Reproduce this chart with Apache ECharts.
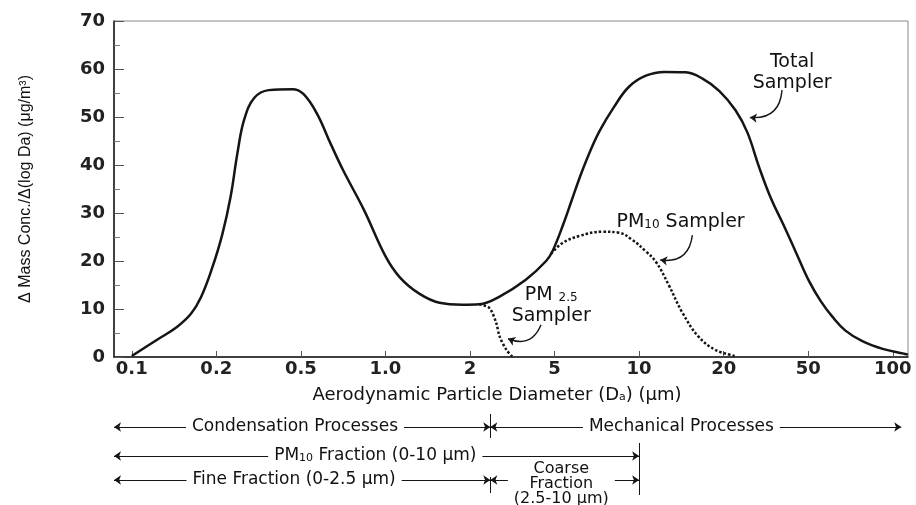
<!DOCTYPE html>
<html>
<head>
<meta charset="utf-8">
<script src="https://cdn.jsdelivr.net/npm/echarts@6/dist/echarts.min.js"></script>
<style>
  html, body { margin: 0; padding: 0; background: #fff; }
  #chart { width: 916px; height: 505px; }
</style>
</head>
<body>
<div id="chart"></div>
<script>
// x axis: one unit per tick, the ticks are equally spaced (not a true log axis)
var xTickLabels = ['0.1', '0.2', '0.5', '1.0', '2', '5', '10', '20', '50', '100'];

// Total sampler (axis position, mass conc.)
var totalPos = [0.00, 0.30, 0.53, 0.70, 0.82, 0.95, 1.07, 1.17, 1.25, 1.33, 1.45, 1.62, 1.90, 2.03, 2.19, 2.35, 2.50, 2.75, 3.00,
  3.17, 3.40, 3.64, 3.91, 4.11, 4.35, 4.66, 4.90, 4.98, 5.10, 5.20, 5.30, 5.40, 5.53, 5.70, 5.88, 6.08, 6.30, 6.55, 6.75,
  6.95, 7.14, 7.28, 7.42, 7.56, 7.70, 7.85, 8.01, 8.15, 8.29, 8.44, 8.64, 8.88, 9.13, 9.18];
var totalVal = [0.2, 3.6, 6.2, 9.0, 12.5, 18.5, 25.5, 33.5, 42.5, 49.5, 54.0, 55.6, 55.8, 54.8, 50.7, 44.5, 38.9, 30.5, 21.0,
  16.6, 13.2, 11.3, 10.9, 11.0, 12.6, 16.1, 20.0, 22.2, 27.5, 32.5, 37.5, 42.0, 47.0, 52.0, 56.3, 58.6, 59.4, 59.3, 58.0,
  55.4, 51.4, 46.8, 39.5, 33.0, 27.8, 22.0, 15.8, 11.6, 8.3, 5.5, 3.3, 1.7, 0.7, 0.5];

// PM10 sampler
var pm10Pos = [4.96, 5.09, 5.29, 5.57, 5.76, 5.92, 6.08, 6.20, 6.35, 6.51, 6.70, 6.90, 7.14];
var pm10Val = [21.5, 23.7, 25.2, 26.1, 25.9, 24.4, 22.0, 19.8, 15.0, 9.3, 4.3, 1.5, 0.2];

// PM2.5 sampler
var pm25Pos = [4.11, 4.23, 4.31, 4.35, 4.43, 4.50];
var pm25Val = [11.0, 10.2, 7.1, 4.3, 1.5, 0.1];

// notes inside the plot: [pos, value, text]
var plotNotes = [
  [7.81, 59.3, 'Total\nSampler'],
  [6.49, 28.1, 'PM{sub|10} Sampler'],
  [4.96, 10.7, 'PM {sub|2.5}\nSampler']
];
// curved pointers: [fromPos, fromVal, toPos, toVal]
var plotPointers = [
  [7.69, 55.6, 7.31, 49.9],
  [6.63, 25.4, 6.25, 20.2],
  [4.84, 6.7, 4.45, 3.8]
];

// size bands under the axis (row units of the lower strip)
var pos25 = 4.24, pos10 = 6.0, bandLeft = -0.21, bandRight = 9.10;
var bandSegments = [
  [bandLeft, pos25, 17], [pos25, bandRight, 17],
  [bandLeft, pos10, 46],
  [bandLeft, pos25, 70], [pos25, pos10, 70]
];
var bandDividers = [[pos25, 4, 28], [pos10, 33, 85], [pos25, 67, 83]];
var bandLabels = [
  [1.93, 17, 'Condensation Processes'],
  [6.50, 17, 'Mechanical Processes'],
  [2.88, 46, 'PM{sub|10} Fraction (0-10 μm)'],
  [1.92, 70, 'Fine Fraction (0-2.5 μm)'],
  [5.08, 73.5, 'Coarse\nFraction\n(2.5-10 μm)']
];

function zip(xs, ys) {
  return xs.map(function (x, i) { return [x, ys[i]]; });
}

var ink = '#151515';
var font = 'DejaVu Sans';
var tickIdx = xTickLabels.map(function (t, i) { return i; });

var chart = echarts.init(document.getElementById('chart'));

var option = {
  backgroundColor: '#fff',
  animation: false,
  grid: [
    { left: 114, right: 8, top: 21, bottom: 148, show: true, borderColor: '#888', borderWidth: 1 },
    { left: 114, right: 8, top: 410, height: 90 }
  ],
  xAxis: [
    {
      type: 'value', gridIndex: 0, min: -0.21, max: 9.18,
      name: 'Aerodynamic Particle Diameter (D{sub|a}) (μm)',
      nameLocation: 'middle', nameGap: 29,
      nameTextStyle: {
        fontFamily: font, fontSize: 18, color: '#111', padding: [0, 28, 0, 0],
        rich: { sub: { fontFamily: font, fontSize: 11, verticalAlign: 'bottom', padding: [0, 0, 1, 0], color: '#111' } }
      },
      axisLine: { show: true, onZero: false, lineStyle: { color: ink, width: 1.5 } },
      axisTick: { show: true, inside: true, length: 6, customValues: tickIdx, lineStyle: { color: '#555' } },
      axisLabel: {
        customValues: tickIdx,
        formatter: function (v) { return xTickLabels[Math.round(v)]; },
        margin: 3, fontFamily: font, fontWeight: 'bold', fontSize: 18, color: '#222'
      },
      splitLine: { show: false }
    },
    { type: 'value', gridIndex: 1, min: -0.21, max: 9.18, show: false }
  ],
  yAxis: [
    {
      type: 'value', gridIndex: 0, min: 0, max: 70, interval: 10,
      name: 'Δ Mass Conc./Δ(log Da) (μg/m³)',
      nameLocation: 'middle', nameGap: 80,
      nameTextStyle: { fontFamily: 'Liberation Sans', fontSize: 16, color: '#111' },
      axisLine: { show: true, onZero: false, lineStyle: { color: ink, width: 1.5 } },
      axisTick: { show: true, inside: true, length: 10, lineStyle: { color: '#555' } },
      minorTick: { show: true, splitNumber: 2, length: 6, lineStyle: { color: '#777' } },
      axisLabel: { margin: 9, fontFamily: font, fontWeight: 'bold', fontSize: 18, color: '#222' },
      splitLine: { show: false }
    },
    { type: 'value', gridIndex: 1, min: 0, max: 90, inverse: true, show: false }
  ],
  series: [
    {
      name: 'Total Sampler', type: 'line', xAxisIndex: 0, yAxisIndex: 0,
      data: zip(totalPos, totalVal), smooth: 0.4, symbol: 'none',
      lineStyle: { color: ink, width: 2.5 }, z: 3
    },
    {
      name: 'PM10 Sampler', type: 'line', xAxisIndex: 0, yAxisIndex: 0,
      data: zip(pm10Pos, pm10Val), smooth: 0.4, symbol: 'none',
      lineStyle: { color: ink, width: 2.5, type: [2.5, 2] }, z: 2
    },
    {
      name: 'PM2.5 Sampler', type: 'line', xAxisIndex: 0, yAxisIndex: 0,
      data: zip(pm25Pos, pm25Val), smooth: 0.3, symbol: 'none',
      lineStyle: { color: ink, width: 2.5, type: [2.5, 2] }, z: 2
    },
    {
      name: 'notes', type: 'scatter', xAxisIndex: 0, yAxisIndex: 0,
      data: plotNotes.map(function (n) { return { value: [n[0], n[1]], label: { formatter: n[2] } }; }),
      symbolSize: 0, silent: true, itemStyle: { opacity: 1 },
      label: {
        show: true, position: 'inside', fontFamily: font, fontSize: 19, lineHeight: 21, color: '#111',
        rich: { sub: { fontFamily: font, fontSize: 12, verticalAlign: 'bottom', padding: [0, 0, 2, 0], color: '#111' } }
      }
    },
    {
      name: 'pointers', type: 'lines', coordinateSystem: 'cartesian2d', xAxisIndex: 0, yAxisIndex: 0,
      silent: true, symbol: ['none', 'arrow'], symbolSize: 7,
      lineStyle: { color: ink, width: 1.4, opacity: 1, curveness: 0.5 },
      data: plotPointers.map(function (p) { return { coords: [[p[0], p[1]], [p[2], p[3]]] }; })
    },
    {
      name: 'bands', type: 'lines', coordinateSystem: 'cartesian2d', xAxisIndex: 1, yAxisIndex: 1, z: 1,
      silent: true, symbol: ['arrow', 'arrow'], symbolSize: 7,
      lineStyle: { color: ink, width: 1, opacity: 1 },
      data: bandSegments.map(function (s) { return { coords: [[s[0], s[2]], [s[1], s[2]]] }; })
    },
    {
      name: 'dividers', type: 'lines', coordinateSystem: 'cartesian2d', xAxisIndex: 1, yAxisIndex: 1, z: 1,
      silent: true, symbol: 'none',
      lineStyle: { color: ink, width: 1, opacity: 1 },
      data: bandDividers.map(function (d) { return { coords: [[d[0], d[1]], [d[0], d[2]]] }; })
    },
    {
      name: 'band labels', type: 'scatter', xAxisIndex: 1, yAxisIndex: 1, z: 5,
      data: bandLabels.map(function (b) {
        var multi = b[2].indexOf('\n') >= 0;
        return { value: [b[0], b[1]], label: { formatter: b[2], fontSize: multi ? 16 : 17, lineHeight: multi ? 15 : 17 } };
      }),
      symbolSize: 0, silent: true, itemStyle: { opacity: 1 },
      label: {
        show: true, position: 'inside', fontFamily: font, color: '#111',
        backgroundColor: '#fff', padding: [0, 6],
        rich: { sub: { fontFamily: font, fontSize: 11, verticalAlign: 'bottom', padding: [0, 0, 1, 0], color: '#111', backgroundColor: '#fff' } }
      }
    }
  ]
};
chart.setOption(option);
</script>
</body>
</html>
